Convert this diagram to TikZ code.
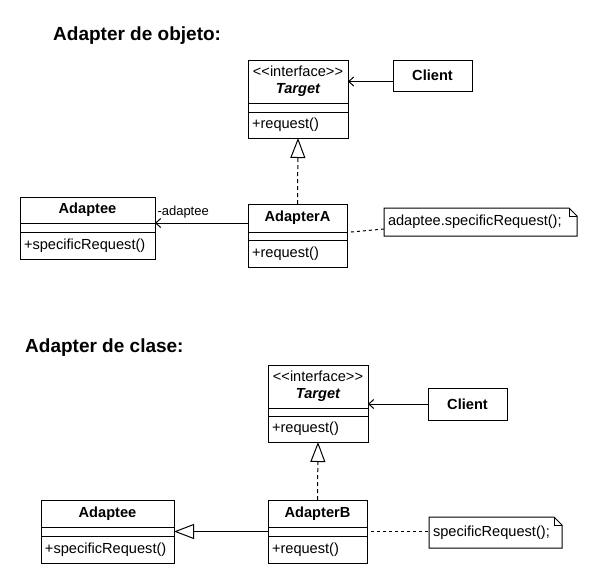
\documentclass[tikz,border=0pt]{standalone}
\usepackage{fontspec}
\setmainfont{Liberation Sans}[Ligatures=TeXOff]
\usetikzlibrary{positioning,arrows.meta}
\tikzset{>=stealth}
\tikzset{
	umlbox/.style={draw,line width=1pt,inner sep=0pt,outer sep=0pt,font=\fontsize{14.6}{17}\selectfont},
	headbox/.style={umlbox,font=\fontsize{14.6}{17}\selectfont\bfseries,minimum height=27pt,align=center},
	attrbox/.style={umlbox,minimum height=9pt},
	methbox/.style={umlbox,minimum height=27pt,align=left,inner xsep=4pt},
	notebox/.style={inner xsep=4pt,inner ysep=0pt,outer sep=0pt,align=left,font=\fontsize{14.6}{17}\selectfont},
	assoc/.style={line width=1pt,-{Straight Barb[length=5pt,width=9pt]}},
	inherit/.style={line width=1pt,-{Triangle[open,length=20pt,width=15pt,fill=white]}},
	realize/.style={inherit,dash pattern=on 4pt off 3pt},
	notelink/.style={line width=1pt,dash pattern=on 3pt off 3pt},
	titletext/.style={font=\fontsize{19}{22}\selectfont\bfseries,anchor=west,inner sep=0pt}
}
\begin{document}
\begin{tikzpicture}[x=1pt,y=-1pt]
		\useasboundingbox (0,0) rectangle (598,584);
		\node[titletext] (titleA) at (53,36) {Adapter de objeto:};
		\node[headbox,minimum width=100pt,minimum height=43pt,anchor=north west] (tgtAhead) at (248,60) {\mdseries<<interface>>\\\itshape Target};
		\node[attrbox,minimum width=100pt,below=0pt of tgtAhead] (tgtAattr) {};
		\node[methbox,text width=92pt,minimum height=26pt,below=0pt of tgtAattr] (tgtAmeth) {+request()};
		\node[headbox,minimum width=79pt,minimum height=31pt,anchor=north west] (clientA) at (393,60) {Client};
		\node[headbox,minimum width=135pt,minimum height=26pt,anchor=north west] (adpAhead) at (20,197) {Adaptee};
		\node[attrbox,minimum width=135pt,below=0pt of adpAhead] (adpAattr) {};
		\node[methbox,text width=127pt,below=0pt of adpAattr] (adpAmeth) {+specificRequest()};
		\node[headbox,minimum width=99pt,minimum height=28pt,anchor=north west] (adaAhead) at (248,204) {AdapterA};
		\node[attrbox,minimum width=99pt,minimum height=8pt,below=0pt of adaAhead] (adaAattr) {};
		\node[methbox,text width=91pt,below=0pt of adaAattr] (adaAmeth) {+request()};
		\node[notebox,text width=185pt,minimum height=28pt,anchor=north west] (noteA) at (384,208) {adaptee.specificRequest();};
		\draw[line width=1pt] (noteA.north west) -- ([xshift=-8pt]noteA.north east) -- ([yshift=-8pt]noteA.north east) -- (noteA.south east) -- (noteA.south west) -- cycle;
		\draw[line width=1pt] ([xshift=-8pt]noteA.north east) |- ([yshift=-8pt]noteA.north east);
		\draw[assoc] (clientA.west |- tgtAhead.east) -- (tgtAhead.east);
		\draw[realize] (adaAhead.north) -- (tgtAmeth.south);
		\draw[assoc] (adaAhead.west |- adpAhead.south) -- (adpAhead.south east) node[pos=1,anchor=south west,font=\fontsize{13}{15}\selectfont,inner xsep=2pt,inner ysep=4pt] (roleA) {-adaptee};
		\draw[notelink] ([xshift=4pt]adaAattr.north east) -- ([yshift=-7pt]noteA.west);

		\node[titletext] (titleB) at (25,348) {Adapter de clase:};
		\node[headbox,minimum width=100pt,minimum height=43pt,anchor=north west] (tgtBhead) at (268,365) {\mdseries<<interface>>\\\itshape Target};
		\node[attrbox,minimum width=100pt,minimum height=8pt,below=0pt of tgtBhead] (tgtBattr) {};
		\node[methbox,text width=92pt,minimum height=26pt,below=0pt of tgtBattr] (tgtBmeth) {+request()};
		\node[headbox,minimum width=79pt,minimum height=32pt,anchor=north west] (clientB) at (428,388) {Client};
		\node[headbox,minimum width=133pt,anchor=north west] (adpBhead) at (41,500) {Adaptee};
		\node[attrbox,minimum width=133pt,below=0pt of adpBhead] (adpBattr) {};
		\node[methbox,text width=125pt,below=0pt of adpBattr] (adpBmeth) {+specificRequest()};
		\node[headbox,minimum width=99pt,anchor=north west] (adaBhead) at (268,500) {AdapterB};
		\node[attrbox,minimum width=99pt,below=0pt of adaBhead] (adaBattr) {};
		\node[methbox,text width=91pt,below=0pt of adaBattr] (adaBmeth) {+request()};
		\node[notebox,text width=125pt,minimum height=31pt,anchor=north west] (noteB) at (429,517) {specificRequest();};
		\draw[line width=1pt] (noteB.north west) -- ([xshift=-8pt]noteB.north east) -- ([yshift=-8pt]noteB.north east) -- (noteB.south east) -- (noteB.south west) -- cycle;
		\draw[line width=1pt] ([xshift=-8pt]noteB.north east) |- ([yshift=-8pt]noteB.north east);
		\draw[assoc] (clientB.west) -- (clientB.west -| tgtBhead.east);
		\draw[realize] (adaBhead.north) -- (tgtBmeth.south);
		\draw[inherit] (adaBattr.west) -- (adpBattr.east);
		\draw[notelink] ([xshift=4pt]adaBattr.east) -- (noteB.west |- adaBattr.east);
\end{tikzpicture}
\end{document}
